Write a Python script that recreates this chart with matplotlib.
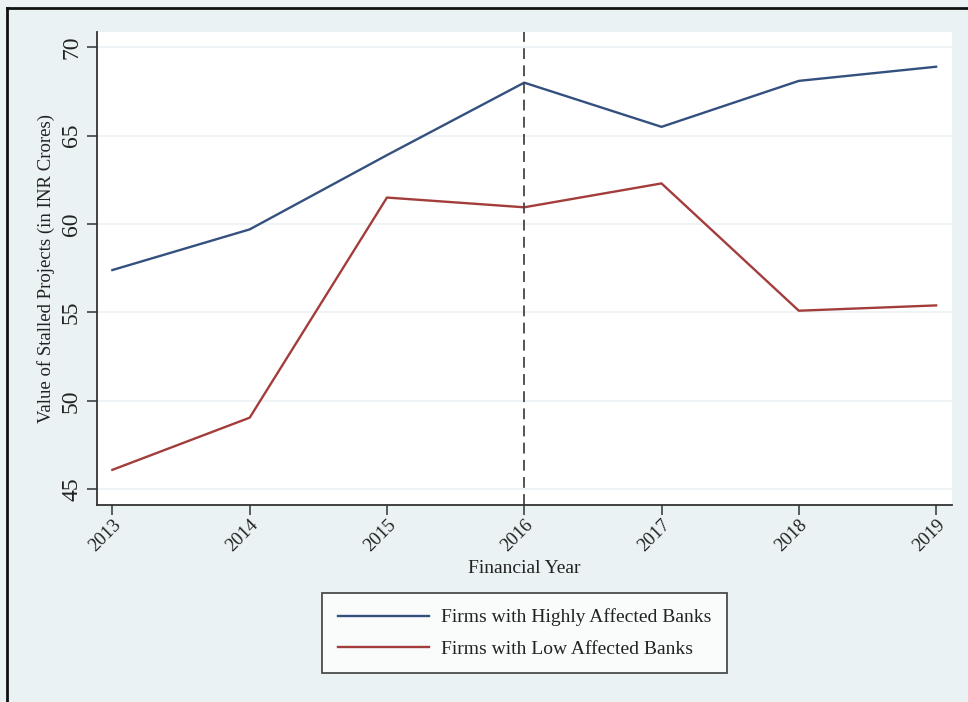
import numpy as np
import matplotlib.pyplot as plt
from matplotlib.lines import Line2D

plt.rcParams['font.family'] = ['Liberation Serif', 'DejaVu Serif']

# data
years = [2013, 2014, 2015, 2016, 2017, 2018, 2019]
high_affected = [57.4, 59.7, 63.9, 68.0, 65.5, 68.1, 68.9]
low_affected = [46.1, 49.05, 61.5, 60.95, 62.3, 55.1, 55.4]
yticks = [45, 50, 55, 60, 65, 70]
cutoff_year = 2016

bg = '#EAF2F3'
fig = plt.figure(figsize=(9.68, 7.02), dpi=100, facecolor=bg)
ax = fig.add_axes([0.1005, 0.2806, 0.8827, 0.6742])
ax.set_facecolor('white')

for v in yticks:
    ax.axhline(v, color='#EDF2F4', lw=1.3, zorder=0)

ax.plot(years, high_affected, color='#34507F', lw=1.7, label='Firms with Highly Affected Banks')
ax.plot(years, low_affected, color='#A33D3C', lw=1.7, label='Firms with Low Affected Banks')
ax.axvline(cutoff_year, color='#4A4446', lw=1.3, dashes=(6, 3.5))

ax.set_xlim(2012.89, 2019.114)
ax.set_ylim(44.11, 70.88)
ax.set_xticks(years)
ax.set_xticklabels([str(y) for y in years], rotation=45, ha='right', va='top',
                   rotation_mode='anchor', fontsize=13.5, color='#222222')
ax.set_yticks(yticks)
ax.set_yticklabels([str(v) for v in yticks], rotation=90, va='center', fontsize=17,
                   color='#222222')
ax.tick_params(axis='both', length=7, width=1.1, color='#333333', direction='out')
ax.tick_params(axis='x', pad=1)
ax.tick_params(axis='y', pad=4)

for s in ['top', 'right']:
    ax.spines[s].set_visible(False)
for s in ['left', 'bottom']:
    ax.spines[s].set_color('#333333')
    ax.spines[s].set_linewidth(1.3)

ax.set_ylabel('Value of Stalled Projects (in INR Crores)', fontsize=13.5, labelpad=4,
              color='#222222')
ax.set_xlabel('Financial Year', fontsize=14, labelpad=4, color='#222222')

leg = ax.legend(loc='upper center', bbox_to_anchor=(0.5, -0.186), ncol=1, fontsize=14,
                frameon=True, fancybox=False, edgecolor='#222222', handlelength=4.7,
                handletextpad=0.6, borderpad=0.8, labelspacing=0.7, borderaxespad=0)
leg.get_frame().set_linewidth(1.3)
for t in leg.get_texts():
    t.set_color('#222222')

# outer frame (left and top edges)
fig.add_artist(Line2D([7 / 968, 7 / 968], [0, 1 - 8 / 702], color='#111111', lw=2,
                      transform=fig.transFigure))
fig.add_artist(Line2D([7 / 968, 1], [1 - 8 / 702, 1 - 8 / 702], color='#111111', lw=2,
                      transform=fig.transFigure))

fig.savefig('out.png', dpi=100, facecolor=bg)
